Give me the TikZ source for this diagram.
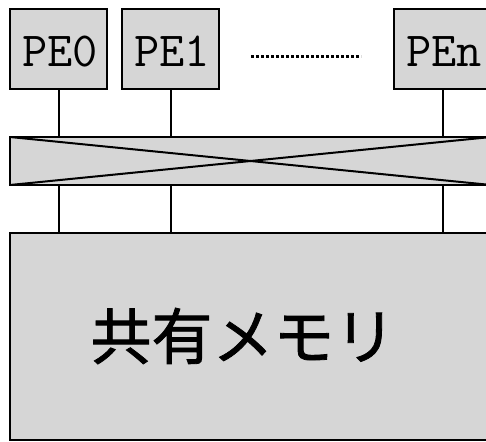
\documentclass[tikz,border=0pt]{standalone}
\usepackage{fontspec}
\newfontfamily\cjk[FakeBold=1.3]{Noto Sans CJK JP}
\definecolor{boxgray}{HTML}{D6D6D6}
\begin{document}
\begin{tikzpicture}[x=1pt,y=-1pt,
  unit/.style={draw=black,fill=boxgray,line width=2pt,inner sep=0pt,outer sep=0pt},
  pebox/.style={unit,minimum width=97pt,minimum height=80pt},
  lbl/.style={inner sep=0pt,font=\ttfamily\fontsize{49}{49}\selectfont},
  wire/.style={line width=2pt}
]
\useasboundingbox (0,0) rectangle (486,441);
\clip (0,0) rectangle (486,441);
% PE boxes
\node[pebox] (pe0) at (58.5,49) {};
\node[pebox] (pe1) at (170.5,49) {};
\node[pebox] (pen) at (442.5,49) {};
\node[lbl,anchor=base] (t0) at (60,67) {PE0};
\node[lbl,anchor=base] (t1) at (172,67) {PE1};
\node[lbl,anchor=base] (tn) at (444,67) {PEn};
% dotted ellipsis
\coordinate (d1) at (251,57);
\coordinate (d2) at (361,57);
\draw[line width=3pt,dash pattern=on 2.5pt off 2.5pt] (d1) -- (d2);
% switch
\node[unit,minimum width=481pt,minimum height=48pt] (sw) at (250.5,161) {};
\draw[wire] (sw.north west) -- (sw.south east);
\draw[wire] (sw.south west) -- (sw.north east);
% memory
\node[unit,minimum width=481pt,minimum height=207pt] (mem) at (250.5,336.5) {};
\node[inner sep=0pt,font=\cjk\fontsize{61}{61}\selectfont] (mt) at (243,336) {共有メモリ};
% wires
\draw[wire] (pe0.south) -- (pe0.south |- sw.north);
\draw[wire] (pe1.south) -- (pe1.south |- sw.north);
\draw[wire] (pen.south) -- (pen.south |- sw.north);
\draw[wire] (pe0.south |- sw.south) -- (pe0.south |- mem.north);
\draw[wire] (pe1.south |- sw.south) -- (pe1.south |- mem.north);
\draw[wire] (pen.south |- sw.south) -- (pen.south |- mem.north);
\end{tikzpicture}
\end{document}
